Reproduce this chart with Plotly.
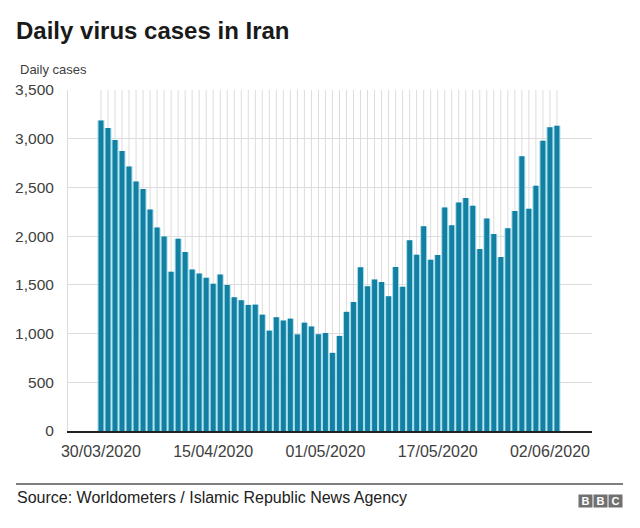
import pandas as pd
import plotly.graph_objects as go

# ---- data ----
start_date = "2020-03-30"
daily_cases = [3186, 3110, 2987, 2875, 2715, 2560, 2483, 2274, 2089, 1997,
               1634, 1972, 1837, 1657, 1617, 1574, 1512, 1606, 1499, 1374,
               1343, 1294, 1297, 1194, 1030, 1168, 1134, 1153, 991, 1112,
               1073, 993, 1006, 802, 976, 1223, 1323, 1680, 1485, 1556,
               1529, 1383, 1683, 1481, 1958, 1808, 2102, 1757, 1806, 2294,
               2111, 2346, 2392, 2311, 1869, 2180, 2023, 1787, 2080, 2258,
               2819, 2282, 2516, 2979, 3117, 3134]
dates = pd.date_range(start_date, periods=len(daily_cases), freq="D")
tick_dates = ["2020-03-30", "2020-04-15", "2020-05-01", "2020-05-17", "2020-06-02"]
tick_labels = ["30/03/2020", "15/04/2020", "01/05/2020", "17/05/2020", "02/06/2020"]
y_ticks = [0, 500, 1000, 1500, 2000, 2500, 3000, 3500]

FONT = "Liberation Sans, Arial, sans-serif"
BAR = "#1380A1"
GAP = "#a4dcee"
DAY_MS = 86400000

fig = go.Figure()
# light backing bars (give the light-blue gaps)
fig.add_trace(go.Bar(x=dates, y=daily_cases, width=[DAY_MS] * len(dates),
                     marker=dict(color=GAP, line=dict(width=0)),
                     hoverinfo="skip", showlegend=False))
# main bars
fig.add_trace(go.Bar(x=dates, y=daily_cases, width=[DAY_MS * 0.7] * len(dates),
                     marker=dict(color=BAR, line=dict(width=0)),
                     showlegend=False))

# vertical gridlines at each day
for d in dates:
    fig.add_shape(type="line", xref="x", yref="y", x0=d, x1=d, y0=0, y1=max(y_ticks),
                  line=dict(color="#dcdcdc", width=1), layer="below")

x0 = dates[0] - pd.Timedelta(days=4.7)
x1 = dates[0] + pd.Timedelta(days=70.0)

fig.update_layout(
    width=640, height=528,
    margin=dict(l=68, r=48, t=90, b=97),
    paper_bgcolor="white", plot_bgcolor="white",
    barmode="overlay",
    font=dict(family=FONT, color="#333333"),
    title=dict(text="<b>Daily virus cases in Iran</b>", xref="container", x=16 / 640,
               xanchor="left", yref="container", y=1 - 31 / 528, yanchor="middle",
               font=dict(size=24, color="#1a1a1a", family=FONT)),
    xaxis=dict(type="date", range=[x0, x1], tickvals=tick_dates, ticktext=tick_labels,
               showgrid=False, showline=True, linecolor="#222222", linewidth=2,
               ticks="", ticklabelstandoff=5,
               tickfont=dict(size=16, color="#404040", family=FONT), zeroline=False),
    yaxis=dict(range=[0, 3500], tickvals=y_ticks, tickformat=",",
               showgrid=True, gridcolor="#dcdcdc", gridwidth=1,
               showline=True, linecolor="#dcdcdc", linewidth=1,
               zeroline=False, ticks="", ticklabelstandoff=10,
               tickfont=dict(size=15.5, color="#404040", family=FONT)),
)

W = 524.0
H = 341.0
fig.add_annotation(text="Daily cases", xref="paper", yref="paper",
                   x=(18 - 68) / W, y=(431 - 69) / H, xanchor="left", yanchor="middle",
                   showarrow=False, font=dict(size=13, color="#404040", family=FONT))
fig.add_annotation(text="Source: Worldometers / Islamic Republic News Agency",
                   xref="paper", yref="paper",
                   x=(15 - 68) / W, y=(431 - 497) / H, xanchor="left", yanchor="middle",
                   showarrow=False, font=dict(size=16, color="#222222", family=FONT))
fig.add_shape(type="line", xref="paper", yref="paper",
              x0=(16 - 68) / W, x1=(623 - 68) / W, y0=(431 - 484) / H, y1=(431 - 484) / H,
              line=dict(color="#555555", width=1.5))
for i, letter in enumerate("BBC"):
    cx = 585 + i * 15
    fig.add_annotation(text="<b>%s</b>" % letter, xref="paper", yref="paper",
                       x=(cx - 68) / W, y=(431 - 501) / H, xanchor="center", yanchor="middle",
                       showarrow=False, bgcolor="#707070", width=13, height=12, borderpad=0,
                       font=dict(size=11, color="white", family=FONT))

fig.write_html("out.html")
